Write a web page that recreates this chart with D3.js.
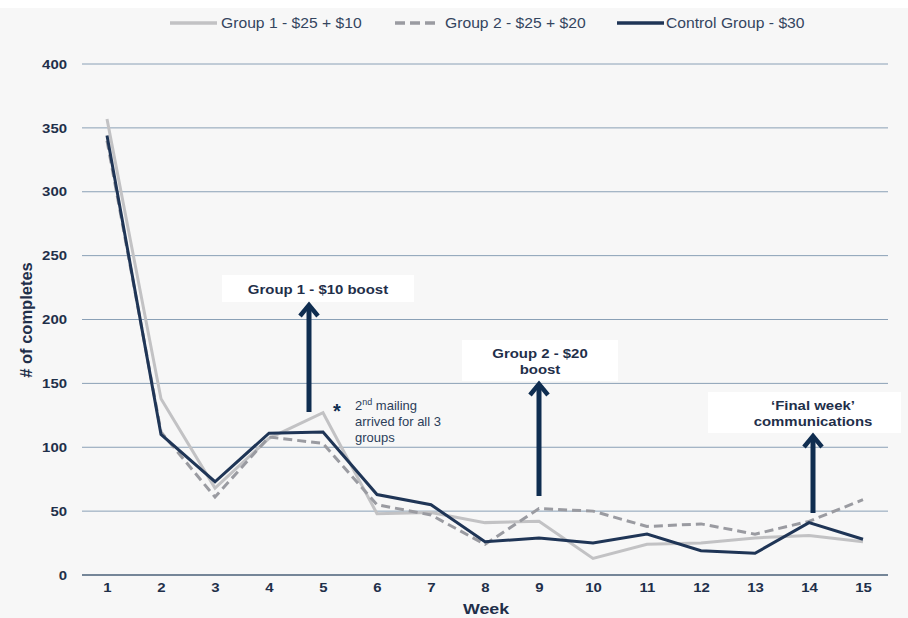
<!DOCTYPE html>
<html><head><meta charset="utf-8">
<script src="https://cdn.jsdelivr.net/npm/d3@7"></script>
<style>body{margin:0;background:#fff;} svg{display:block;font-family:Arial,"Liberation Sans",sans-serif;}</style>
</head><body><svg id="c" width="908" height="618"></svg>
<script>
const weeks = [1,2,3,4,5,6,7,8,9,10,11,12,13,14,15];
const group1 = [357,138,68,107,127,48,49,41,42,13,24,25,29,31,26];
const group2 = [340,112,61,108,103,55,47,24,52,50,38,40,32,42,59];
const control = [344,110,73,111,112,63,55,26,29,25,32,19,17,41,28];
const yTicks = [0,50,100,150,200,250,300,350,400];
const seriesNames = ["Group 1 - $25 + $10","Group 2 - $25 + $20","Control Group - $30"];

const SX = 1.15; // horizontal text stretch
const svg = d3.select("#c");
svg.append("rect").attr("x",0).attr("y",8).attr("width",908).attr("height",610).attr("fill","#f7f7f7");

const x = d3.scalePoint().domain(weeks).range([107,863]);
const y = d3.scaleLinear().domain([0,400]).range([575,64]);
const gridL = 82, gridR = 888;
const txt = "#1f2f4a";

function T(px, py, str, size, opts={}){
  const t = svg.append("text").attr("transform",`translate(${px},${py}) scale(${opts.sx||SX},1)`)
    .attr("font-size",size).attr("fill",opts.fill||txt)
    .attr("font-weight",opts.bold===false?null:"bold")
    .attr("text-anchor",opts.anchor||"start").text(str);
  return t;
}

// gridlines
svg.append("g").selectAll("line").data(yTicks).join("line")
  .attr("x1",gridL).attr("x2",gridR).attr("y1",d=>y(d)).attr("y2",d=>y(d))
  .attr("stroke",d=>d===0?"#4a6079":"#8aa0b6").attr("stroke-width",d=>d===0?1.5:1);

// y axis labels
const yAxis = d3.axisLeft(y).tickValues(yTicks).tickSize(0).tickPadding(0);
const gy = svg.append("g").attr("transform","translate(67,0)").call(yAxis);
gy.select(".domain").remove();
gy.selectAll("text").attr("font-size",13).attr("font-weight","bold").attr("fill",txt)
  .attr("transform",`scale(${SX},1)`);

const xAxis = d3.axisBottom(x).tickSize(0).tickPadding(0);
const gx = svg.append("g").attr("transform","translate(0,583)").call(xAxis);
gx.select(".domain").remove();
gx.selectAll("text").attr("font-size",13).attr("font-weight","bold").attr("fill",txt).attr("dy","0.71em")
  .attr("transform",`scale(${SX},1)`);

T(486,614,"Week",15.5,{anchor:"middle"});
svg.append("text").attr("transform","translate(32,320) rotate(-90)").attr("text-anchor","middle")
  .attr("font-size",16.5).attr("font-weight","bold").attr("fill",txt).text("# of completes");

const line = d3.line().x((d,i)=>x(weeks[i])).y(d=>y(d));
const styles = [
  {data:group1,color:"#c2c2c4",dash:null},
  {data:group2,color:"#9a9ba1",dash:"9,5"},
  {data:control,color:"#1f3556",dash:null}
];
styles.forEach(s=>{
  svg.append("path").datum(s.data).attr("d",line).attr("fill","none")
    .attr("stroke",s.color).attr("stroke-width",3).attr("stroke-dasharray",s.dash)
    .attr("stroke-linejoin","miter");
});

// legend
const legX = [170,395,617];
const legLen = [47,41,47];
const legTxt = [221,445,666];
styles.forEach((s,i)=>{
  svg.append("line").attr("x1",legX[i]).attr("x2",legX[i]+legLen[i]).attr("y1",23).attr("y2",23)
    .attr("stroke",s.color).attr("stroke-width",3.5).attr("stroke-dasharray",s.dash?"10,5":null);
  T(legTxt[i],28,seriesNames[i],14,{bold:false,fill:"#34455f",sx:1.12});
});

// annotations
const navy = "#0f2d50";
function arrow(ax, y1, y2){
  svg.append("line").attr("x1",ax).attr("x2",ax).attr("y1",y1).attr("y2",y2+4)
    .attr("stroke",navy).attr("stroke-width",5);
  svg.append("path").attr("d",`M${ax-9},${y2+13} L${ax},${y2+2} L${ax+9},${y2+13}`)
    .attr("fill","none").attr("stroke",navy).attr("stroke-width",4.5).attr("stroke-linejoin","miter");
}
function box(x0,y0,w,h,lines,cx,ys){
  svg.append("rect").attr("x",x0).attr("y",y0).attr("width",w).attr("height",h).attr("fill","#fff");
  lines.forEach((t,i)=>T(cx,ys[i],t,13,{anchor:"middle"}));
}
box(222,275,192,27,["Group 1 - $10 boost"],318,[294]);
arrow(309,412,303);
box(462,340,156,41,["Group 2 - $20","boost"],540,[358,374]);
arrow(539,496,382);
box(708,392,193,41,["\u2018Final week\u2019","communications"],813,[410,426]);
arrow(813,513,434);

svg.append("text").attr("x",333).attr("y",418).attr("font-size",20).attr("font-weight","bold").attr("fill",navy).text("*");
const note = svg.append("text").attr("font-size",13).attr("fill","#2c3e5a");
const t1 = note.append("tspan").attr("x",355).attr("y",410);
t1.append("tspan").text("2");
t1.append("tspan").attr("font-size",9).attr("dy",-5).text("nd");
t1.append("tspan").attr("dy",5).text(" mailing");
note.append("tspan").attr("x",355).attr("y",426).text("arrived for all 3");
note.append("tspan").attr("x",355).attr("y",442).text("groups");
</script></body></html>
